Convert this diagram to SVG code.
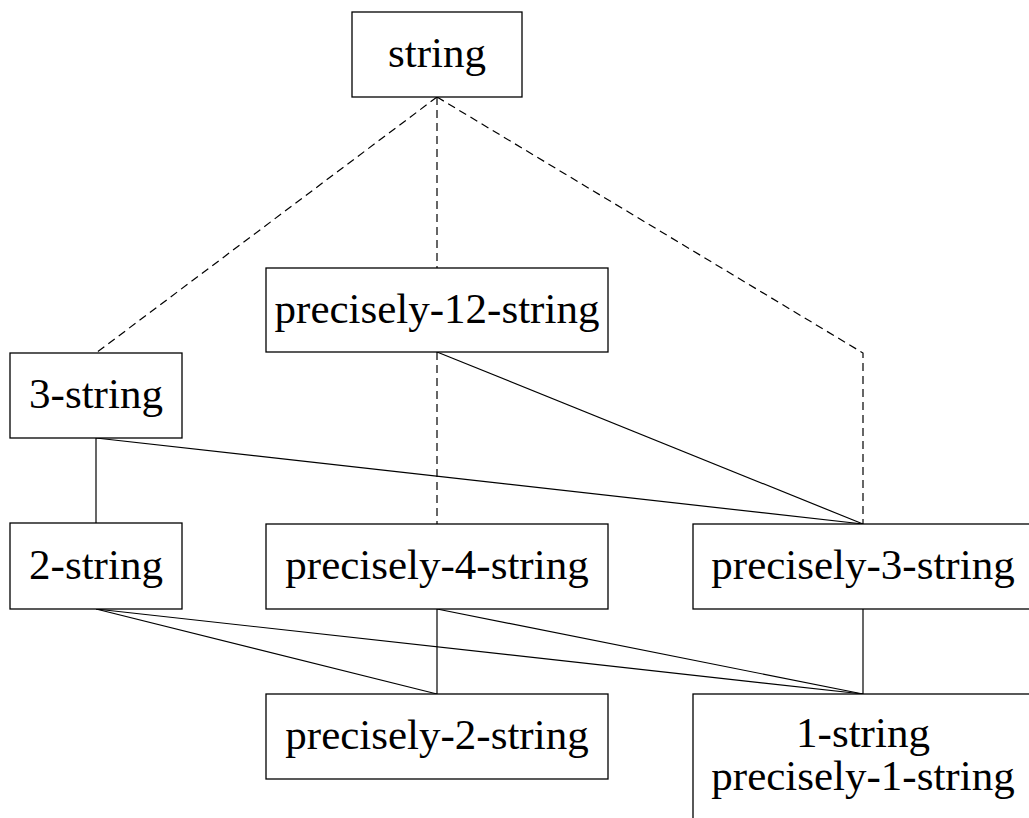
<svg xmlns="http://www.w3.org/2000/svg" width="1029" height="818" viewBox="0 0 1029 818">
<style>
.box{fill:#fff;stroke:#000;stroke-width:1.3}
.t{font-family:"Liberation Serif","DejaVu Serif",serif;font-size:43px;text-anchor:middle;fill:#000}
.e{stroke:#000;stroke-width:1.2;fill:none}
.d{stroke-dasharray:8 5}
</style>
<rect width="1029" height="818" fill="#fff"/>
<g id="connectors">
<line class="e d" x1="437" y1="97" x2="96" y2="353"/>
<line class="e d" x1="437" y1="97" x2="437" y2="268"/>
<polyline class="e d" points="437,97 863,353 863,524"/>
<line class="e d" x1="437" y1="352" x2="437" y2="524"/>
<line class="e" x1="437" y1="352" x2="863" y2="524"/>
<line class="e" x1="96" y1="438" x2="96" y2="523"/>
<line class="e" x1="96" y1="438" x2="863" y2="524"/>
<line class="e" x1="96" y1="609" x2="437" y2="694"/>
<line class="e" x1="96" y1="609" x2="863" y2="694"/>
<line class="e" x1="437" y1="609" x2="437" y2="694"/>
<line class="e" x1="437" y1="609" x2="863" y2="694"/>
<line class="e" x1="863" y1="609" x2="863" y2="694"/>
</g>
<g id="string"><rect class="box" x="352" y="12" width="170" height="85"/><text class="t" x="437" y="67">string</text></g>
<g id="precisely-12-string"><rect class="box" x="266" y="268" width="342" height="84"/><text class="t" x="437" y="323">precisely-12-string</text></g>
<g id="3-string"><rect class="box" x="10" y="353" width="172" height="85"/><text class="t" x="96" y="408">3-string</text></g>
<g id="2-string"><rect class="box" x="10" y="523" width="172" height="86"/><text class="t" x="96" y="579">2-string</text></g>
<g id="precisely-4-string"><rect class="box" x="266" y="524" width="342" height="85"/><text class="t" x="437" y="579">precisely-4-string</text></g>
<g id="precisely-3-string"><rect class="box" x="693" y="524" width="341" height="85"/><text class="t" x="863" y="579">precisely-3-string</text></g>
<g id="precisely-2-string"><rect class="box" x="266" y="694" width="342" height="85"/><text class="t" x="437" y="749">precisely-2-string</text></g>
<g id="1-string"><rect class="box" x="693" y="694" width="341" height="130"/><text class="t" x="863" y="747">1-string</text><text class="t" x="863" y="790">precisely-1-string</text></g>
</svg>
